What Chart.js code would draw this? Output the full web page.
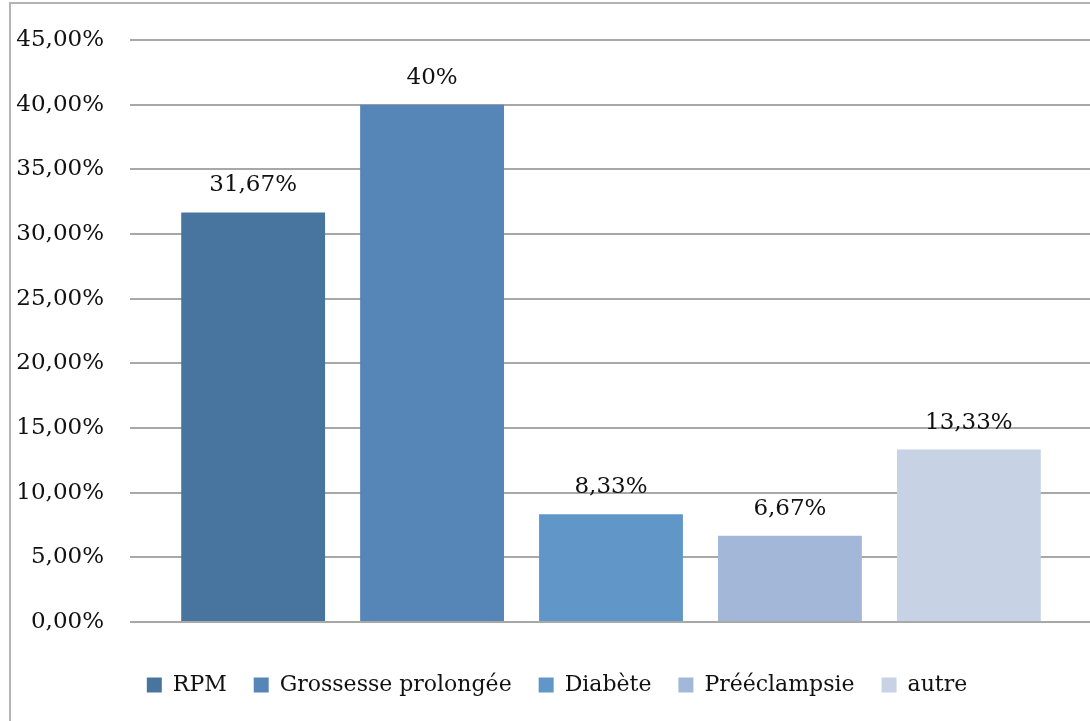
<!DOCTYPE html>
<html>
<head>
<meta charset="utf-8">
<script src="https://cdn.jsdelivr.net/npm/chart.js@4"></script>
<style>
  html, body { margin: 0; padding: 0; background: #fff; overflow: hidden; }
  #box {
    position: absolute; left: 9px; top: 2px;
    width: 1092px; height: 717px;
    border-left: 2px solid #b4b4b4; border-top: 2px solid #b4b4b4;
  }
</style>
</head>
<body>
<div id="box"><canvas id="chart1" width="1092" height="717"></canvas></div>
<script>
/* ---------- données ---------- */
var categories = ['RPM', 'Grossesse prolongée', 'Diabète', 'Prééclampsie', 'autre'];
var valeurs = [31.67, 40, 8.33, 6.67, 13.33];
var etiquettes = ['31,67%', '40%', '8,33%', '6,67%', '13,33%'];
var couleurs = ['#4874a0', '#5586b7', '#6196c9', '#a3b7d9', '#c7d2e5'];
var yTicks = [0, 5, 10, 15, 20, 25, 30, 35, 40, 45];

var police = 'DejaVu Serif';
var taille = 23;

// une série par catégorie (comme dans Excel) => légende en bas
var datasets = categories.map(function (nom, i) {
    return {
        label: nom,
        data: [valeurs[i]],
        backgroundColor: couleurs[i],
        borderWidth: 0,
        barPercentage: 0.804,
        categoryPercentage: 0.93
    };
});

// étiquettes de données au-dessus des barres
const etiquettesPlugin = {
    id: 'etiquettes',
    afterDatasetsDraw(chart) {
        const ctx = chart.ctx;
        ctx.save();
        ctx.font = taille + 'px "' + police + '"';
        ctx.fillStyle = '#111';
        ctx.textAlign = 'center';
        ctx.textBaseline = 'middle';
        chart.data.datasets.forEach(function (ds, i) {
            const bar = chart.getDatasetMeta(i).data[0];
            ctx.fillText(etiquettes[i], bar.x, bar.y - 27);
        });
        ctx.restore();
    }
};

const ctx1 = document.getElementById('chart1').getContext('2d');

const config1 = {
    type: 'bar',
    data: { labels: [''], datasets: datasets },
    options: {
        responsive: false,
        animation: false,
        layout: { padding: { top: 36, right: 0, left: 0, bottom: 15 } },
        scales: {
            x: {
                display: true,
                grid: { display: false },
                border: { display: false },
                ticks: { display: false },
                afterFit: function (s) { s.height = 25; }
            },
            y: {
                min: 0,
                max: 45,
                afterBuildTicks: function (s) { s.ticks = yTicks.map(function (v) { return { value: v }; }); },
                afterFit: function (s) { s.width = 119; },
                border: { display: false },
                // tirets invisibles pour décaler les libellés sans gonfler le haut
                grid: { color: '#a8a8a8', lineWidth: 2, drawTicks: true, tickLength: 24, tickColor: 'rgba(0,0,0,0)' },
                ticks: {
                    padding: 2,
                    color: '#111',
                    font: { family: police, size: taille },
                    callback: function (v) { return v.toFixed(2).replace('.', ',') + '%'; }
                }
            },
            // axe vide à droite : marge pour garder la légende centrée
            y2: {
                position: 'right',
                display: true,
                grid: { display: false },
                border: { display: false },
                ticks: { display: false },
                afterFit: function (s) { s.width = 11; }
            }
        },
        plugins: {
            legend: {
                position: 'bottom',
                labels: {
                    boxWidth: 15,
                    boxHeight: 15,
                    padding: 27,
                    color: '#111',
                    font: { family: police, size: 22 }
                }
            },
            tooltip: { enabled: false }
        }
    },
    plugins: [etiquettesPlugin]
};

const myChart1 = new Chart(ctx1, config1);
</script>
</body>
</html>
